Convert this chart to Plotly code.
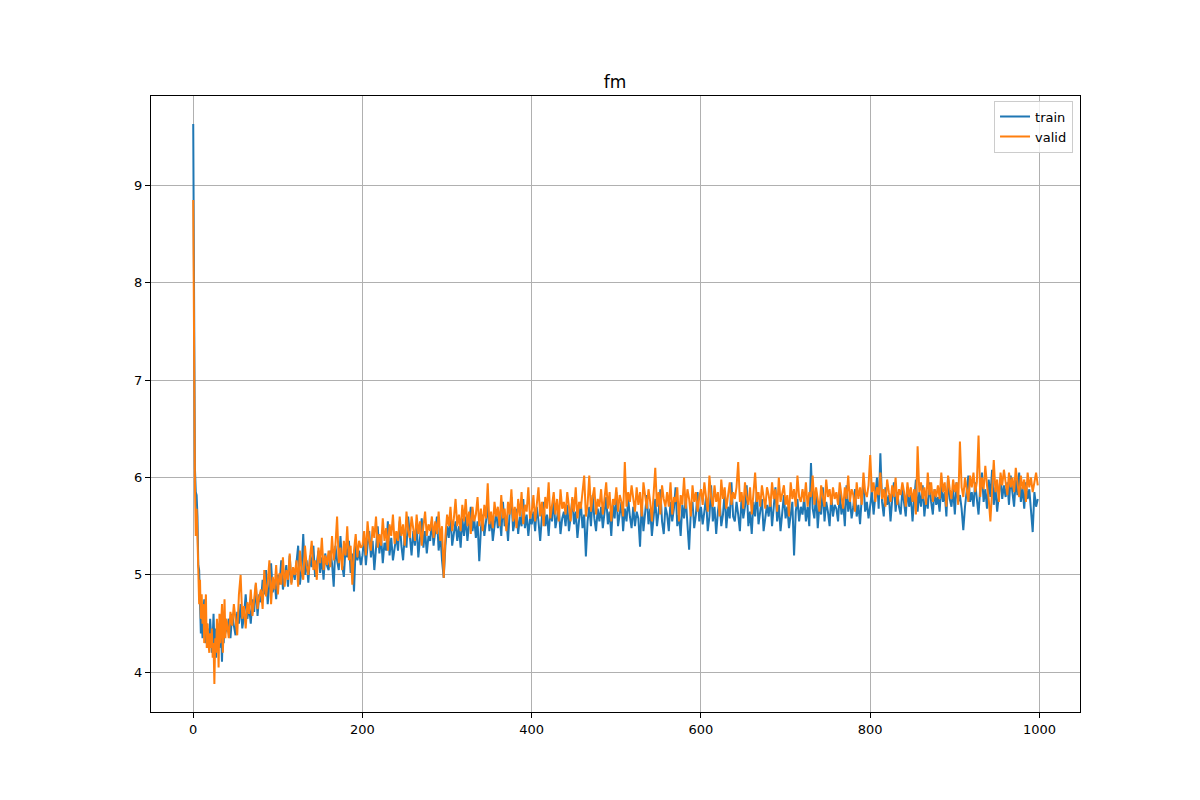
import plotly.graph_objects as go

# per-epoch values for epochs 0..39
train_head = [9.63, 7.2, 6.1, 5.85, 5.82, 5.6, 5.1, 5.05, 4.7, 4.4,
              4.55, 4.35, 4.6, 4.75, 4.3, 4.4, 4.5, 4.25, 4.45, 4.3,
              4.55, 4.4, 4.2, 4.35, 4.6, 4.3, 4.45, 4.15, 4.4, 4.5,
              4.35, 4.25, 4.5, 4.4, 4.11, 4.45, 4.3, 4.55, 4.4, 4.5]
valid_head = [8.85, 7.0, 5.95, 5.4, 5.68, 5.39, 5.08, 4.7, 4.95, 4.55,
              4.8, 4.5, 4.7, 4.3, 4.6, 4.8, 4.25, 4.5, 4.3, 4.2,
              4.4, 4.25, 4.45, 4.15, 4.3, 3.88, 4.35, 4.2, 4.55, 4.4,
              4.05, 4.6, 4.3, 4.5, 4.7, 4.2, 4.45, 4.75, 4.35, 4.55]

# every 2nd epoch from 40 on; each row covers 40 epochs
train_rows = [
    [4.42, 4.55, 4.35, 4.6, 4.48, 4.38, 4.62, 4.5, 4.7, 4.45, 4.58, 4.8, 4.55, 4.68, 4.5, 4.75, 4.62, 4.9, 4.58, 4.8],
    [4.72, 4.95, 4.8, 5.05, 4.7, 4.88, 5.12, 4.82, 4.95, 4.75, 5.0, 4.9, 5.15, 4.85, 4.98, 5.1, 4.88, 5.2, 4.92, 5.05],
    [4.95, 5.1, 5.3, 4.9, 5.05, 5.42, 5.0, 5.15, 4.92, 5.2, 5.08, 5.3, 4.98, 5.12, 5.25, 5.02, 5.18, 4.95, 5.22, 5.1],
    [5.05, 5.25, 5.12, 4.88, 5.3, 5.15, 5.05, 5.4, 5.1, 4.98, 5.28, 5.18, 5.35, 5.02, 5.22, 4.83, 5.3, 5.15, 5.25, 5.1],
    [5.2, 5.38, 5.1, 5.3, 5.45, 5.18, 5.35, 5.05, 5.28, 5.5, 5.22, 5.4, 5.12, 5.33, 5.25, 5.55, 5.2, 5.38, 5.15, 5.3],
    [5.4, 5.25, 5.55, 5.3, 5.15, 5.42, 5.28, 5.6, 5.35, 5.2, 5.45, 5.3, 5.52, 5.18, 5.38, 5.58, 5.28, 5.45, 5.22, 5.4],
    [5.35, 5.55, 5.3, 5.48, 5.6, 5.25, 5.42, 5.15, 4.97, 5.3, 5.5, 5.38, 5.62, 5.3, 5.45, 5.55, 5.35, 5.5, 5.28, 5.58],
    [5.4, 5.6, 5.35, 5.52, 5.7, 5.45, 5.58, 5.38, 5.55, 5.14, 5.48, 5.62, 5.4, 5.55, 5.72, 5.45, 5.6, 5.35, 5.5, 5.65],
    [5.48, 5.62, 5.4, 5.75, 5.5, 5.58, 5.35, 5.65, 5.8, 5.45, 5.55, 5.68, 5.42, 5.6, 5.5, 5.78, 5.48, 5.62, 5.4, 5.58],
    [5.52, 5.65, 5.45, 5.7, 5.55, 5.35, 5.6, 5.75, 5.5, 5.62, 5.4, 5.68, 5.55, 5.8, 5.48, 5.6, 5.7, 5.42, 5.58, 5.65],
    [5.5, 5.72, 5.45, 5.6, 5.78, 5.52, 5.65, 5.38, 5.6, 5.75, 5.48, 5.62, 5.19, 5.55, 5.7, 5.5, 5.82, 5.58, 5.45, 5.68],
    [5.55, 5.7, 5.48, 5.62, 5.8, 5.52, 5.65, 5.4, 5.72, 5.58, 5.85, 5.5, 5.62, 5.75, 5.45, 5.68, 5.55, 5.78, 5.6, 5.48],
    [5.7, 5.5, 5.65, 5.58, 5.29, 5.75, 5.45, 5.62, 5.82, 5.52, 5.68, 5.4, 5.6, 5.78, 5.5, 5.65, 5.88, 5.55, 5.42, 5.7],
    [5.62, 5.45, 5.75, 5.55, 5.68, 5.9, 5.5, 5.62, 5.4, 5.72, 5.58, 5.8, 5.52, 5.26, 5.65, 5.75, 5.48, 5.62, 5.85, 5.55],
    [5.7, 5.52, 5.65, 5.8, 5.45, 5.6, 5.92, 5.55, 5.7, 5.42, 5.65, 5.78, 5.5, 5.62, 5.85, 5.48, 5.7, 5.58, 5.95, 5.6],
    [5.55, 5.75, 5.62, 5.45, 5.8, 5.58, 5.7, 5.92, 5.5, 5.65, 5.42, 5.75, 5.6, 5.85, 5.52, 5.68, 5.78, 5.45, 5.62, 5.72],
    [5.6, 5.8, 5.5, 5.68, 5.9, 5.55, 5.72, 5.45, 5.65, 5.82, 5.58, 5.7, 5.48, 5.62, 5.75, 5.2, 5.65, 5.78, 5.55, 5.7],
    [5.62, 5.8, 5.55, 5.7, 5.5, 6.15, 5.68, 5.58, 5.85, 5.48, 5.72, 5.62, 5.9, 5.55, 5.75, 5.65, 5.5, 5.82, 5.6, 5.72],
    [5.68, 5.55, 5.85, 5.62, 5.75, 5.5, 5.92, 5.65, 5.78, 5.58, 5.7, 5.88, 5.6, 5.72, 5.52, 5.8, 5.95, 5.65, 5.75, 5.58],
    [5.7, 5.85, 5.62, 5.78, 6.0, 5.68, 6.25, 5.75, 5.6, 5.9, 5.72, 5.82, 5.55, 5.78, 5.95, 5.65, 5.85, 5.7, 5.62, 5.88],
    [5.75, 5.6, 5.9, 5.7, 5.82, 5.55, 5.78, 5.98, 5.65, 5.85, 5.7, 5.92, 5.6, 5.8, 5.68, 5.95, 5.75, 5.62, 5.88, 5.72],
    [5.8, 5.65, 5.92, 5.75, 5.85, 5.6, 6.0, 5.78, 5.7, 5.88, 5.62, 5.95, 5.75, 5.82, 5.68, 5.46, 5.7, 5.85, 6.02, 5.75],
    [5.85, 5.7, 5.95, 5.78, 5.62, 5.9, 6.05, 5.75, 5.88, 5.68, 5.98, 5.8, 6.08, 5.72, 5.9, 5.65, 5.85, 6.0, 5.78, 5.92],
    [5.8, 5.95, 5.72, 6.02, 5.85, 5.7, 5.98, 5.82, 6.05, 5.75, 5.9, 5.68, 5.95, 5.78, 5.88, 5.65, 5.44, 5.85, 5.7, 5.78],
]
valid_rows = [
    [4.5, 4.35, 4.62, 4.48, 4.7, 4.52, 4.38, 4.8, 5.0, 4.55, 4.68, 4.45, 4.72, 4.6, 4.85, 4.58, 4.75, 4.92, 4.65, 4.78],
    [4.85, 4.65, 5.05, 4.78, 4.92, 5.15, 4.7, 4.98, 4.85, 5.1, 4.8, 5.02, 4.9, 5.18, 4.88, 5.05, 4.95, 5.22, 4.9, 5.08],
    [5.0, 5.15, 4.88, 5.25, 5.05, 4.95, 5.3, 5.1, 5.0, 5.2, 5.35, 5.05, 5.15, 4.95, 5.28, 5.12, 5.38, 5.05, 5.2, 5.1],
    [5.25, 5.08, 5.4, 5.15, 5.3, 5.6, 5.12, 5.28, 5.05, 5.35, 5.2, 5.5, 5.15, 5.3, 4.9, 5.25, 5.42, 5.18, 5.35, 5.28],
    [5.3, 5.45, 5.2, 5.55, 5.35, 5.25, 5.5, 5.38, 5.6, 5.28, 5.42, 5.3, 5.58, 5.35, 5.48, 5.25, 5.52, 5.4, 5.62, 5.32],
    [5.45, 5.35, 5.6, 5.4, 5.52, 5.3, 5.65, 5.45, 5.38, 5.6, 5.48, 5.35, 5.62, 5.42, 5.55, 5.3, 5.5, 5.65, 5.4, 5.52],
    [5.45, 5.6, 5.38, 5.55, 5.42, 5.65, 5.35, 5.5, 4.97, 5.4, 5.62, 5.5, 5.7, 5.45, 5.58, 5.78, 5.5, 5.62, 5.45, 5.72],
    [5.55, 5.78, 5.5, 5.65, 5.42, 5.7, 5.55, 5.62, 5.8, 5.5, 5.68, 5.45, 5.72, 5.58, 5.94, 5.52, 5.65, 5.48, 5.75, 5.6],
    [5.7, 5.5, 5.82, 5.58, 5.68, 5.45, 5.75, 5.62, 5.88, 5.55, 5.7, 5.48, 5.78, 5.6, 5.85, 5.52, 5.72, 5.65, 5.9, 5.58],
    [5.65, 5.82, 5.55, 5.72, 5.9, 5.6, 5.75, 5.5, 5.8, 5.68, 5.95, 5.58, 5.72, 5.85, 5.62, 5.78, 5.55, 5.88, 5.68, 5.75],
    [5.62, 5.85, 5.7, 5.55, 5.8, 5.65, 5.9, 5.58, 5.75, 5.68, 5.85, 6.02, 5.6, 5.72, 6.02, 5.65, 5.8, 5.9, 5.62, 5.78],
    [5.7, 5.88, 5.62, 5.8, 5.95, 5.68, 5.85, 5.55, 5.78, 5.72, 5.9, 5.65, 5.82, 5.75, 5.6, 6.16, 5.7, 5.85, 5.75, 5.92],
    [5.78, 5.65, 5.9, 5.72, 5.85, 5.6, 5.95, 5.8, 5.68, 5.88, 5.75, 5.55, 5.82, 6.1, 5.7, 5.85, 5.62, 5.92, 5.78, 5.7],
    [5.85, 5.7, 5.95, 5.62, 5.8, 5.75, 5.9, 5.55, 5.82, 5.72, 6.0, 5.68, 5.88, 5.78, 5.6, 5.92, 5.75, 5.85, 5.65, 5.8],
    [5.88, 5.72, 5.95, 5.78, 5.65, 6.02, 5.8, 5.7, 5.92, 5.75, 5.85, 5.6, 5.98, 5.78, 5.9, 5.68, 5.82, 5.95, 5.72, 5.85],
    [5.78, 5.9, 6.16, 5.75, 5.85, 5.68, 5.95, 5.8, 5.72, 5.9, 5.62, 5.88, 6.05, 5.75, 5.85, 5.7, 5.92, 5.8, 5.68, 5.9],
    [5.82, 5.7, 5.95, 5.78, 5.88, 5.65, 6.0, 5.75, 5.85, 5.92, 5.72, 5.82, 5.6, 5.95, 5.78, 5.88, 5.7, 6.02, 5.8, 5.75],
    [5.88, 5.75, 5.95, 5.7, 5.85, 5.8, 6.02, 5.72, 5.9, 5.78, 5.65, 5.92, 5.82, 5.7, 5.98, 5.8, 5.88, 5.72, 5.9, 5.78],
    [5.85, 5.72, 5.95, 5.8, 5.68, 5.9, 5.78, 6.02, 5.75, 5.88, 5.82, 5.65, 5.95, 5.78, 5.9, 5.72, 6.05, 5.85, 5.8, 5.92],
    [6.23, 5.85, 5.95, 5.75, 5.9, 5.82, 6.05, 5.78, 5.88, 5.7, 5.98, 5.85, 5.75, 5.92, 5.8, 6.0, 5.72, 5.88, 5.82, 5.95],
    [5.85, 5.7, 5.95, 5.8, 5.9, 5.75, 5.88, 5.62, 6.32, 5.85, 5.95, 5.78, 5.9, 5.72, 6.05, 5.82, 5.95, 5.75, 5.88, 5.8],
    [5.92, 5.78, 6.05, 5.85, 5.95, 5.7, 6.02, 5.88, 5.78, 5.98, 5.85, 5.95, 5.72, 6.37, 5.9, 5.8, 6.0, 5.88, 5.75, 6.02],
    [5.9, 6.05, 5.85, 5.95, 6.43, 5.8, 6.0, 5.88, 6.12, 5.92, 5.78, 5.55, 5.9, 6.18, 5.85, 5.98, 5.75, 6.05, 5.92, 6.08],
    [5.95, 5.82, 6.05, 5.9, 6.0, 5.85, 6.1, 5.92, 5.8, 6.02, 5.88, 5.98, 5.75, 6.05, 5.9, 6.0, 5.85, 5.95, 6.05, 5.92],
]

x_ticks = [0, 200, 400, 600, 800, 1000]
y_ticks = [4, 5, 6, 7, 8, 9]


def build(head, rows):
    xs = list(range(len(head)))
    ys = list(head)
    for k, row in enumerate(rows):
        for i, v in enumerate(row):
            xs.append(40 + 40 * k + 2 * i)
            ys.append(v)
    return xs, ys


tx, ty = build(train_head, train_rows)
vx, vy = build(valid_head, valid_rows)

fig = go.Figure()
fig.add_trace(go.Scatter(x=tx, y=ty, mode="lines", name="train",
                         line=dict(color="#1f77b4", width=2)))
fig.add_trace(go.Scatter(x=vx, y=vy, mode="lines", name="valid",
                         line=dict(color="#ff7f0e", width=2)))

allx = tx + vx
ally = ty + vy
xr = max(allx) - min(allx)
yr = max(ally) - min(ally)

axis_common = dict(showline=True, linecolor="black", linewidth=1, mirror=True,
                   ticks="outside", ticklen=5, tickcolor="black", tickwidth=1,
                   showgrid=True, gridcolor="#b0b0b0", gridwidth=1,
                   zeroline=False, tickfont=dict(family="DejaVu Sans", size=13, color="black"))

fig.update_layout(
    width=1200, height=800,
    paper_bgcolor="white", plot_bgcolor="white",
    margin=dict(l=151, r=120, t=96, b=88),
    title=dict(text="fm", x=0.5125, xanchor="center", y=0.8895, yanchor="bottom",
               font=dict(family="DejaVu Sans", size=17, color="black")),
    xaxis=dict(range=[min(allx) - 0.05 * xr, max(allx) + 0.05 * xr],
               tickvals=x_ticks, **axis_common),
    yaxis=dict(range=[min(ally) - 0.05 * yr, max(ally) + 0.05 * yr],
               tickvals=y_ticks, **axis_common),
    legend=dict(x=0.9925, xanchor="right", y=0.9925, yanchor="top",
                bgcolor="rgba(255,255,255,0.8)", bordercolor="#cccccc", borderwidth=1,
                font=dict(family="DejaVu Sans", size=13, color="black"),
                itemwidth=30, tracegroupgap=0),
    showlegend=True,
)

fig.write_html("out.html")
